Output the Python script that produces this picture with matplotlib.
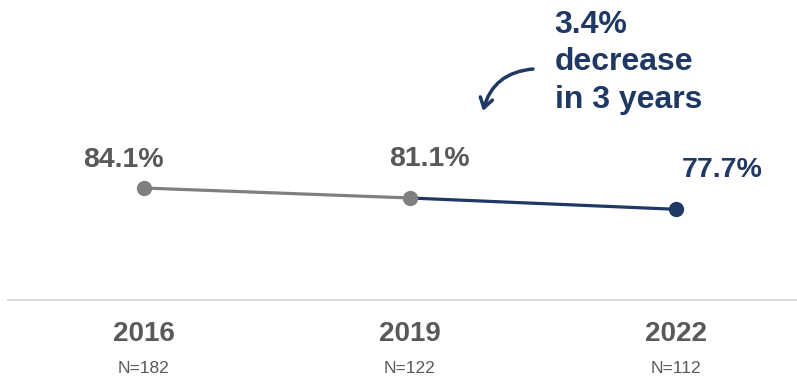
import matplotlib.pyplot as plt
from matplotlib.transforms import blended_transform_factory

years = ["2016", "2019", "2022"]
sample_sizes = ["N=182", "N=122", "N=112"]
rates = [84.1, 81.1, 77.7]
rate_labels = ["84.1%", "81.1%", "77.7%"]
note = "3.4%\ndecrease\nin 3 years"

gray = "#7F7F7F"
navy = "#1F3864"
text_gray = "#595959"

plt.rcParams['font.family'] = ['Liberation Sans', 'DejaVu Sans']

fig = plt.figure(figsize=(7.97, 3.79), dpi=100)
ax = fig.add_axes([0, 0, 1, 1])
x = list(range(len(years)))

# gray for the old part, navy for the latest period
ax.plot(x[:2], rates[:2], color=gray, lw=2.3, solid_capstyle='round', zorder=2)
ax.plot(x[1:], rates[1:], color=navy, lw=2.3, solid_capstyle='round', zorder=2)
ax.plot(x[:2], rates[:2], 'o', color=gray, ms=10, zorder=3)
ax.plot(x[2:], rates[2:], 'o', color=navy, ms=10, zorder=3)

offsets = [(-15, 20), (14, 28), (33, 28)]
colors = [text_gray, text_gray, navy]
for xi, r, lab, off, c in zip(x, rates, rate_labels, offsets, colors):
    ax.annotate(lab, (xi, r), xytext=off, textcoords='offset points',
                ha='center', va='center', fontsize=20.5, fontweight='bold', color=c)

trans = blended_transform_factory(ax.transData, ax.transAxes)
for xi, yr, n in zip(x, years, sample_sizes):
    ax.text(xi, 0.119, yr, transform=trans, ha='center', va='center',
            fontsize=20, fontweight='bold', color=text_gray)
    ax.text(xi, 0.029, n, transform=trans, ha='center', va='center',
            fontsize=12.5, color=text_gray)

# baseline
ax.plot([0.01, 1.0], [0.208, 0.208], transform=ax.transAxes, color="#D9D9D9", lw=1.5)

ax.text(0.696, 1 - 10 / 379, note, transform=ax.transAxes, ha='left', va='top',
        fontsize=23, fontweight='bold', color=navy, linespacing=1.32)
ax.annotate("", xy=(483 / 797, 1 - 111 / 379), xytext=(533 / 797, 1 - 69 / 379),
            xycoords='axes fraction', textcoords='axes fraction',
            arrowprops=dict(arrowstyle='->,head_length=0.7,head_width=0.45', color=navy,
                            lw=2.5, shrinkA=0, shrinkB=0,
                            connectionstyle='arc3,rad=0.35'))

ax.set_xlim(-0.541, 2.455)
ax.set_ylim(26.7, 140.6)
ax.axis('off')

fig.savefig("out.png", dpi=100)
